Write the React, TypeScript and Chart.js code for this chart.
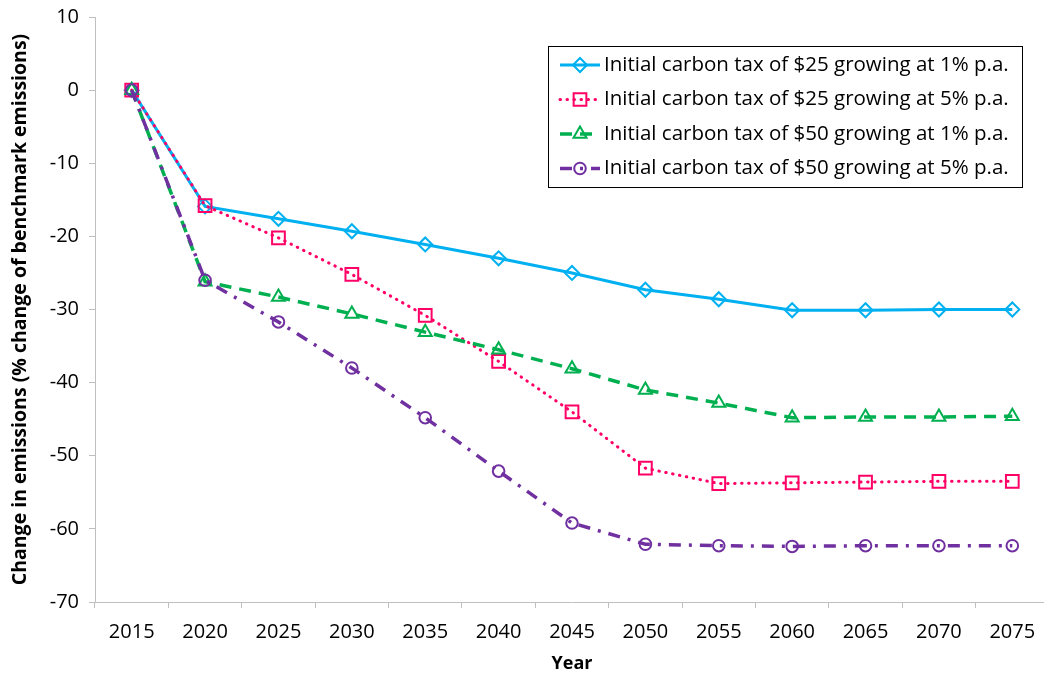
import React, { useEffect, useRef } from 'react';
import { Chart, registerables } from 'chart.js';

Chart.register(...registerables);

const years = ['2015', '2020', '2025', '2030', '2035', '2040', '2045', '2050', '2055', '2060', '2065', '2070', '2075'];
const tax25grow1 = [0, -15.9, -17.6, -19.3, -21.1, -23.0, -25.0, -27.3, -28.6, -30.1, -30.1, -30.0, -30.0];
const tax25grow5 = [0, -15.8, -20.2, -25.2, -30.8, -37.1, -44.0, -51.7, -53.8, -53.7, -53.6, -53.5, -53.5];
const tax50grow1 = [0, -26.2, -28.3, -30.6, -33.1, -35.5, -38.1, -41.0, -42.8, -44.8, -44.7, -44.7, -44.6];
const tax50grow5 = [0, -26.0, -31.7, -38.0, -44.8, -52.1, -59.2, -62.1, -62.3, -62.4, -62.3, -62.3, -62.3];
const seriesLabels = [
  'Initial carbon tax of $25 growing at 1% p.a.',
  'Initial carbon tax of $25 growing at 5% p.a.',
  'Initial carbon tax of $50 growing at 1% p.a.',
  'Initial carbon tax of $50 growing at 5% p.a.',
];
const yMin = -70;
const yMax = 10;
const yStep = 10;
const yTitle = 'Change in emissions (% change of benchmark emissions)';
const xTitle = 'Year';

const FONT = '"Open Sans", sans-serif';

function drawMarker(ctx: CanvasRenderingContext2D, style: string, x: number, y: number, r: number) {
  ctx.beginPath();
  if (style === 'rectRot') {
    ctx.moveTo(x, y - r);
    ctx.lineTo(x + r, y);
    ctx.lineTo(x, y + r);
    ctx.lineTo(x - r, y);
    ctx.closePath();
  } else if (style === 'rect') {
    const s = Math.SQRT1_2 * r;
    ctx.rect(x - s, y - s, 2 * s, 2 * s);
  } else if (style === 'triangle') {
    ctx.moveTo(x, y - r);
    ctx.lineTo(x + r * 0.866, y + r * 0.5);
    ctx.lineTo(x - r * 0.866, y + r * 0.5);
    ctx.closePath();
  } else {
    ctx.arc(x, y, r, 0, Math.PI * 2);
  }
  ctx.stroke();
}

const boxLegend = {
  id: 'boxLegend',
  afterDraw(chart: any) {
    const ctx: CanvasRenderingContext2D = chart.ctx;
    const x0 = 548, y0 = 46, w = 474, h = 141;
    ctx.save();
    ctx.fillStyle = '#ffffff';
    ctx.fillRect(x0, y0, w, h);
    ctx.strokeStyle = '#000000';
    ctx.lineWidth = 1;
    ctx.strokeRect(x0 + 0.5, y0 + 0.5, w, h);
    chart.data.datasets.forEach((ds: any, i: number) => {
      const cy = 65 + i * 34.5;
      ctx.save();
      ctx.strokeStyle = ds.borderColor;
      ctx.lineWidth = ds.borderWidth;
      ctx.setLineDash(ds.borderDash || []);
      ctx.lineCap = ds.borderCapStyle || 'butt';
      ctx.beginPath();
      ctx.moveTo(560, cy);
      ctx.lineTo(600, cy);
      ctx.stroke();
      ctx.restore();
      ctx.save();
      ctx.strokeStyle = ds.pointBorderColor;
      ctx.lineWidth = ds.pointBorderWidth;
      drawMarker(ctx, ds.pointStyle, 580, cy, ds.pointRadius);
      ctx.restore();
      ctx.fillStyle = '#000';
      ctx.font = `20.5px ${FONT}`;
      ctx.textBaseline = 'middle';
      ctx.textAlign = 'left';
      ctx.fillText(ds.label, 604, cy);
    });
    ctx.restore();
  },
};

export default function App() {
  const ref = useRef<HTMLCanvasElement | null>(null);

  useEffect(() => {
    if (!ref.current) return;
    const mk = (label: string, data: number[], color: string, dash: number[], cap: string, width: number, style: string, radius: number, order: number) => ({
      label,
      data,
      borderColor: color,
      backgroundColor: 'transparent',
      borderWidth: width,
      borderDash: dash,
      borderCapStyle: cap,
      pointStyle: style,
      pointRadius: radius,
      pointBorderWidth: 2,
      pointBorderColor: color,
      pointBackgroundColor: 'transparent',
      tension: 0,
      order,
    });
    const chart = new Chart(ref.current, {
      type: 'line',
      data: {
        labels: years,
        datasets: [
          mk(seriesLabels[0], tax25grow1, '#00B0F0', [], 'butt', 3, 'rectRot', 7, 3),
          mk(seriesLabels[1], tax25grow5, '#FF0066', [0.5, 6.5], 'round', 3, 'rect', 9, 2),
          mk(seriesLabels[2], tax50grow1, '#00B050', [12, 8], 'butt', 3.5, 'triangle', 7.5, 1),
          mk(seriesLabels[3], tax50grow5, '#7030A0', [12, 8, 3, 8], 'butt', 3.5, 'circle', 5.8, 0),
        ] as any,
      },
      options: {
        animation: false,
        responsive: false,
        devicePixelRatio: 1,
        layout: { padding: { top: 17, left: 0, right: 0, bottom: 0 } },
        plugins: { legend: { display: false }, tooltip: { enabled: false } },
        scales: {
          x: {
            type: 'category',
            offset: true,
            grid: { offset: true, drawOnChartArea: false, drawTicks: true, tickLength: 6, color: '#bfbfbf', lineWidth: 1 },
            border: { color: '#bfbfbf', width: 1 },
            ticks: { color: '#000', font: { family: FONT, size: 20 }, padding: 12, maxRotation: 0, autoSkip: false },
            title: { display: true, text: xTitle, color: '#000', font: { family: FONT, size: 18, weight: 'bold' }, padding: { top: 4, bottom: 2 } },
            afterFit: (s: any) => { s.height = 75; s.paddingLeft = 0; s.paddingRight = 0; },
          },
          y: {
            min: yMin,
            max: yMax,
            grid: { drawOnChartArea: false, drawTicks: true, tickLength: 6, color: '#bfbfbf', lineWidth: 1 },
            border: { color: '#bfbfbf', width: 1 },
            ticks: { stepSize: yStep, color: '#000', font: { family: FONT, size: 20 }, padding: 10 },
            title: { display: true, text: yTitle, color: '#000', font: { family: FONT, size: 19.5, weight: 'bold' }, padding: 9 },
            afterFit: (s: any) => { s.width = 95; s.paddingTop = 0; s.paddingBottom = 0; },
          },
        },
      } as any,
      plugins: [boxLegend],
    });
    return () => chart.destroy();
  }, []);

  return (
    <div style={{ position: 'absolute', left: 0, top: 0, width: 1044, height: 677, overflow: 'hidden', background: '#fff' }}>
      <canvas ref={ref} width={1060} height={677} style={{ display: 'block', width: 1060, height: 677 }} />
    </div>
  );
}
